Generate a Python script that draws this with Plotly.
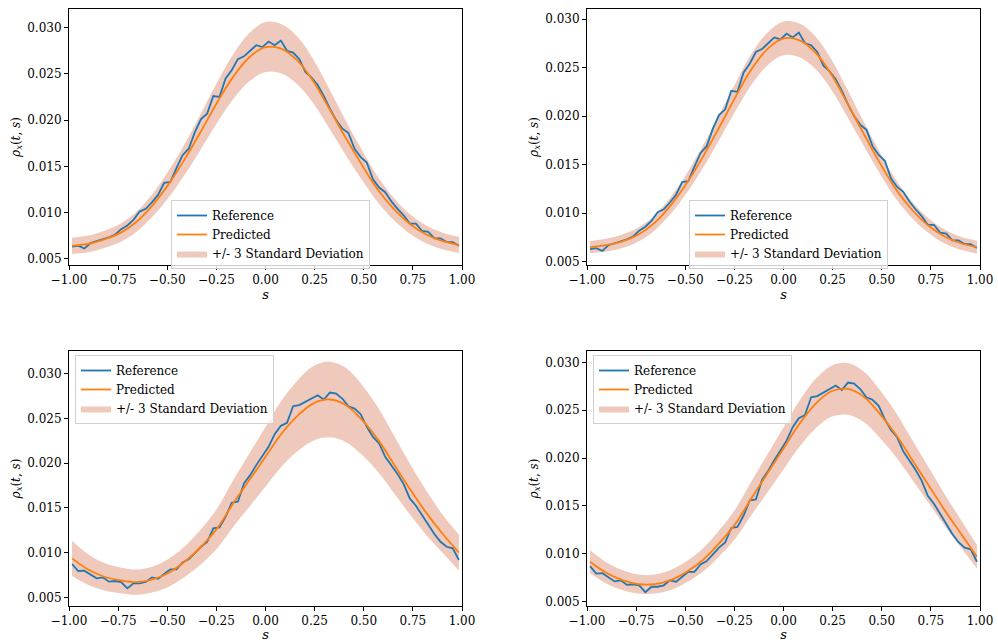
import numpy as np
import plotly.graph_objects as go

# Spatial grid (cell centres on [-1, 1])
S_REF = np.linspace(-0.984375, 0.984375, 64)
S_PRED = np.linspace(-0.984375, 0.984375, 25)

# Reference density, first time slice (shared by the two upper panels)
REF_TOP = [0.0063, 0.0064, 0.0061, 0.0067, 0.0069, 0.0071, 0.0073, 0.0076, 0.0082, 0.0086,
           0.0092, 0.0101, 0.0104, 0.0111, 0.0119, 0.0132, 0.0133, 0.0148, 0.0162, 0.0169,
           0.0187, 0.0201, 0.0207, 0.0226, 0.0225, 0.0245, 0.0254, 0.0266, 0.0269, 0.0275,
           0.0281, 0.0279, 0.0285, 0.0281, 0.0286, 0.0275, 0.0273, 0.0266, 0.0252, 0.0246,
           0.0238, 0.0226, 0.0212, 0.0200, 0.0191, 0.0186, 0.0169, 0.0160, 0.0154, 0.0136,
           0.0127, 0.0122, 0.0112, 0.0104, 0.0097, 0.0088, 0.0088, 0.0080, 0.0079, 0.0072,
           0.0072, 0.0068, 0.0068, 0.0064]

# Reference density, second time slice (shared by the two lower panels)
REF_BOTTOM = [0.00872, 0.00794, 0.00798, 0.00757, 0.00712, 0.00723, 0.00675, 0.00682, 0.00671, 0.00600,
              0.00656, 0.00656, 0.00671, 0.00723, 0.00708, 0.00760, 0.00812, 0.00812, 0.00890, 0.00924,
              0.00999, 0.01065, 0.01118, 0.01270, 0.01281, 0.01400, 0.01557, 0.01568, 0.01772, 0.01865,
              0.01977, 0.02077, 0.02182, 0.02323, 0.02416, 0.02450, 0.02635, 0.02647, 0.02684, 0.02721,
              0.02758, 0.02710, 0.02788, 0.02777, 0.02721, 0.02635, 0.02609, 0.02546, 0.02405, 0.02293,
              0.02219, 0.02070, 0.01977, 0.01877, 0.01765, 0.01605, 0.01523, 0.01419, 0.01318, 0.01207,
              0.01121, 0.01065, 0.01047, 0.00917]

# Predicted means
PRED_TL = [0.0064, 0.0066, 0.0071, 0.0078, 0.0090, 0.0108, 0.0131, 0.0158, 0.0188, 0.0219, 0.0247, 0.0268,
           0.0279, 0.0277, 0.0264, 0.0241, 0.0211, 0.0180, 0.0151, 0.0124, 0.0103, 0.0087, 0.0076, 0.0069, 0.0065]
PRED_TR = [0.0065, 0.0067, 0.0071, 0.0078, 0.0090, 0.0108, 0.0131, 0.0158, 0.0188, 0.0219, 0.0248, 0.0269,
           0.0280, 0.0278, 0.0265, 0.0242, 0.0212, 0.0181, 0.0151, 0.0124, 0.0103, 0.0087, 0.0076, 0.0069, 0.0065]
PRED_BL = [0.00935, 0.0081, 0.0073, 0.0069, 0.0067, 0.0070, 0.00775, 0.0090, 0.01065, 0.0127, 0.0155, 0.0181,
           0.0207, 0.0233, 0.0253, 0.0267, 0.0271, 0.02647, 0.0248, 0.02256, 0.01977, 0.01698, 0.01438, 0.01207, 0.00999]
PRED_BR = [0.00917, 0.00802, 0.00726, 0.00684, 0.00684, 0.00726, 0.00813, 0.00935, 0.01108, 0.0131, 0.01578, 0.01839,
           0.0210, 0.0236, 0.02569, 0.0270, 0.02722, 0.02638, 0.02457, 0.02238, 0.01978, 0.01717, 0.01456, 0.01213, 0.00969]

# Predicted standard deviations
STD_TL = [0.00029, 0.00030, 0.00031, 0.00033, 0.00036, 0.00041, 0.00048, 0.00056, 0.00064, 0.00073, 0.00081, 0.00087,
          0.00090, 0.00089, 0.00086, 0.00079, 0.00071, 0.00062, 0.00054, 0.00046, 0.00040, 0.00035, 0.00032, 0.00030, 0.00029]
STD_TR = [0.00021, 0.00022, 0.00023, 0.00024, 0.00026, 0.00029, 0.00033, 0.00038, 0.00043, 0.00048, 0.00053, 0.00056,
          0.00058, 0.00058, 0.00056, 0.00052, 0.00047, 0.00041, 0.00036, 0.00032, 0.00028, 0.00025, 0.00024, 0.00022, 0.00022]
STD_BL = [0.00066, 0.00057, 0.00051, 0.00048, 0.00047, 0.00048, 0.00052, 0.00057, 0.00065, 0.00074, 0.00087, 0.00099,
          0.00111, 0.00123, 0.00132, 0.00139, 0.00141, 0.00138, 0.00130, 0.00120, 0.00107, 0.00094, 0.00082, 0.00071, 0.00067]
STD_BR = [0.00040, 0.00037, 0.00035, 0.00033, 0.00033, 0.00035, 0.00037, 0.00040, 0.00045, 0.00051, 0.00058, 0.00066,
          0.00073, 0.00080, 0.00086, 0.00089, 0.00090, 0.00088, 0.00083, 0.00077, 0.00069, 0.00062, 0.00055, 0.00048, 0.00041]

X_TICKS = [-1.0, -0.75, -0.5, -0.25, 0.0, 0.25, 0.5, 0.75, 1.0]
Y_TICKS = [0.005, 0.010, 0.015, 0.020, 0.025, 0.030]

BLUE = "#1f77b4"
ORANGE = "#ff7f0e"
BAND = "rgb(239,201,187)"
FONT = "DejaVu Serif, Liberation Serif, serif"
W, H = 998, 642

# panel: (reference, mean, std, x-domain px, y-domain px, y-range, legend corner px)
panels = [
    (REF_TOP, PRED_TL, STD_TL, (69, 462), (9, 265), (0.00432, 0.03202), (171, 200)),
    (REF_TOP, PRED_TR, STD_TR, (587, 980), (9, 265), (0.00466, 0.03103), (689, 200)),
    (REF_BOTTOM, PRED_BL, STD_BL, (69, 462), (351, 606), (0.00403, 0.03252), (75, 355)),
    (REF_BOTTOM, PRED_BR, STD_BR, (587, 980), (351, 606), (0.00455, 0.03118), (593, 355)),
]

fig = go.Figure()
layout = dict(
    width=W, height=H,
    margin=dict(l=0, r=0, t=0, b=0),
    paper_bgcolor="white", plot_bgcolor="white",
    font=dict(family=FONT, size=12, color="black"),
)

for k, (ref, mean, std, xd, yd, yr, lg) in enumerate(panels, start=1):
    sfx = "" if k == 1 else str(k)
    xa, ya = "x" + sfx, "y" + sfx
    leg = "legend" + sfx
    mean_a = np.array(mean)
    std_a = np.array(std)
    lower = mean_a - 3 * std_a
    upper = mean_a + 3 * std_a

    fig.add_trace(go.Scatter(x=S_PRED, y=lower, mode="lines", line=dict(width=0, shape="spline", color=BAND),
                             showlegend=False, hoverinfo="skip", xaxis=xa, yaxis=ya, legend=leg))
    fig.add_trace(go.Scatter(x=S_PRED, y=upper, mode="lines", line=dict(width=0, shape="spline", color=BAND),
                             fill="tonexty", fillcolor=BAND, name="+/- 3 Standard Deviation",
                             legendrank=3, xaxis=xa, yaxis=ya, legend=leg))
    fig.add_trace(go.Scatter(x=S_REF, y=ref, mode="lines", line=dict(color=BLUE, width=1.8),
                             name="Reference", legendrank=1, xaxis=xa, yaxis=ya, legend=leg))
    fig.add_trace(go.Scatter(x=S_PRED, y=mean, mode="lines", line=dict(color=ORANGE, width=1.8, shape="spline"),
                             name="Predicted", legendrank=2, xaxis=xa, yaxis=ya, legend=leg))

    common = dict(showline=True, linecolor="black", linewidth=1, mirror=True,
                  ticks="outside", ticklen=4, tickwidth=1, tickcolor="black",
                  showgrid=False, zeroline=False, automargin=False,
                  tickfont=dict(family=FONT, size=12, color="black"))
    layout["xaxis" + sfx] = dict(
        domain=[xd[0] / W, xd[1] / W], anchor=ya, range=[-1, 1],
        tickvals=X_TICKS, tickformat=".2f",
        title=dict(text="<i>s</i>", standoff=1, font=dict(family=FONT, size=13)),
        **common)
    layout["yaxis" + sfx] = dict(
        domain=[1 - yd[1] / H, 1 - yd[0] / H], anchor=xa, range=list(yr),
        tickvals=Y_TICKS, tickformat=".3f",
        title=dict(text="<i>ρ<sub>x</sub></i>(<i>t</i>, <i>s</i>)", standoff=4,
                   font=dict(family=FONT, size=12)),
        **common)
    layout[leg] = dict(
        x=lg[0] / W, y=1 - lg[1] / H, xanchor="left", yanchor="top",
        xref="paper", yref="paper", traceorder="normal",
        bgcolor="rgba(255,255,255,0.8)", bordercolor="#d0d0d0", borderwidth=1,
        font=dict(family=FONT, size=12, color="black"),
        tracegroupgap=0, itemwidth=30,
    )

fig.update_layout(**layout)
fig.write_html("out.html")
